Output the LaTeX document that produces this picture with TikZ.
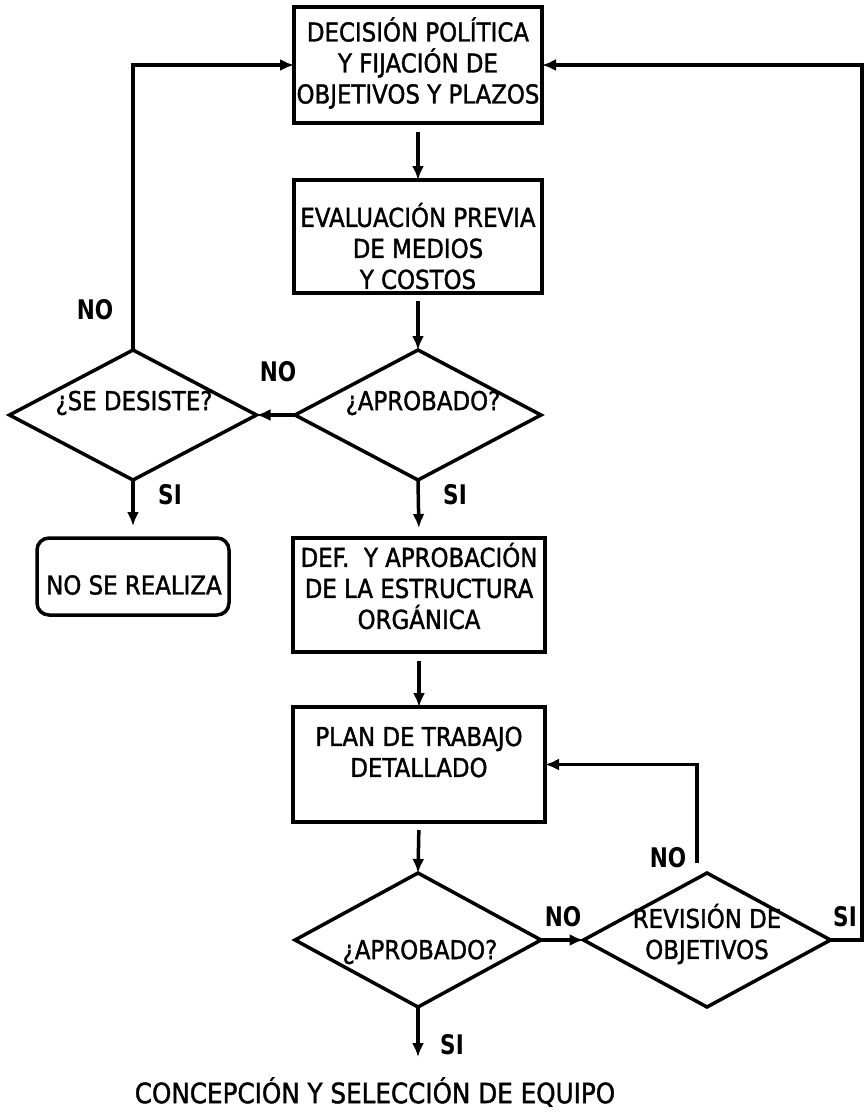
\documentclass[tikz,border=0pt]{standalone}
\usepackage{fontspec}
\setmainfont{DejaVu Sans}[FakeStretch=0.88,FakeBold=1.4]
\newfontfamily\lblfont{DejaVu Sans Bold}[FakeStretch=0.8]
\usetikzlibrary{arrows.meta,shapes.geometric}

\begin{document}
\begin{tikzpicture}[x=1pt,y=-1pt,
  line width=3.5pt,
  every node/.style={inner sep=0pt, outer sep=0pt},
  box/.style={draw, line width=3.5pt, rectangle},
  rbox/.style={draw, line width=3.5pt, rectangle, rounded corners=12pt},
  dia/.style={draw, line width=3.5pt, diamond},
  txt/.style={align=center, font=\fontsize{26}{31}\selectfont},
  lbl/.style={font=\lblfont\fontsize{27}{30}\selectfont},
  arr/.style={-{Latex[length=14pt,width=12pt]}, line width=3.5pt},
]
\useasboundingbox (0,0) rectangle (866,1116);

% main column of boxes and decisions
\node[box, minimum width=248pt, minimum height=116pt] (b1) at (418,65) {};
\node[txt] (b1t) at (418,63) {DECISIÓN POLÍTICA\\Y FIJACIÓN DE\\OBJETIVOS Y PLAZOS};

\node[box, minimum width=248pt, minimum height=113pt] (b2) at (418,236.5) {};
\node[txt] (b2t) at (418,246) {EVALUACIÓN PREVIA\\DE MEDIOS\\Y COSTOS};

\node[dia, minimum width=246pt, minimum height=130pt] (a1) at (418,415) {};
\node[txt] (a1t) at (423,403) {¿APROBADO?};

\node[dia, minimum width=247pt, minimum height=130pt] (dd) at (133,415) {};
\node[txt] (ddt) at (134,403) {¿SE DESISTE?};

\node[rbox, minimum width=192pt, minimum height=77pt] (nsr) at (133,576.5) {};
\node[txt] (nsrt) at (134,585) {NO SE REALIZA};

\node[box, minimum width=252pt, minimum height=114pt] (def) at (419,595) {};
\node[txt] (deft) at (419,586) {DEF.\ \ Y APROBACIÓN\\DE LA ESTRUCTURA\\ORGÁNICA};

\node[box, minimum width=252pt, minimum height=115pt] (plan) at (419,764.5) {};
\node[txt] (plant) at (419,752) {PLAN DE TRABAJO\\DETALLADO};

\node[dia, minimum width=246pt, minimum height=134pt] (a2) at (418,940) {};
\node[txt] (a2t) at (420,952) {¿APROBADO?};

\node[dia, minimum width=247pt, minimum height=134pt] (rev) at (707,940) {};
\node[txt] (revt) at (707,934) {REVISIÓN DE\\OBJETIVOS};

\node[txt, font=\fontsize{28}{32}\selectfont] (eq) at (375,1092) {CONCEPCIÓN Y SELECCIÓN DE EQUIPO};

% branch labels
\node[lbl] (l1) at (95,310) {NO};
\node[lbl] (l2) at (278,372) {NO};
\node[lbl] (l3) at (170,495) {SI};
\node[lbl] (l4) at (455,495) {SI};
\node[lbl] (l5) at (668,858) {NO};
\node[lbl] (l6) at (563,917) {NO};
\node[lbl] (l7) at (845,917) {SI};
\node[lbl] (l8) at (452,1045) {SI};

% connectors
\coordinate (rtop) at (862,65);
\coordinate (fb) at (697,863);
\coordinate (out) at (418,1057);

\draw[arr, shorten <=9pt] (b1.south) -- (b2.north);
\draw[arr, shorten <=8pt] (b2.south) -- (a1.north);
\draw[arr] (a1.west) -- (dd.east);
\draw[arr] (dd.north) |- (b1.west);
\draw[arr, shorten >=12pt] (dd.south) -- (nsr.north);
\draw[arr, shorten >=10pt] (a1.south) -- (def.north);
\draw[arr, shorten <=9pt] (def.south) -- (plan.north);
\draw[arr, shorten <=8pt] (plan.south) -- (a2.north);
\draw[arr] (a2.east) -- (rev.west);
\draw[arr] (rev.east) -| (rtop) -- (b1.east);
\draw[arr] (fb) |- (plan.east);
\draw[arr] (a2.south) -- (out);
\end{tikzpicture}
\end{document}
